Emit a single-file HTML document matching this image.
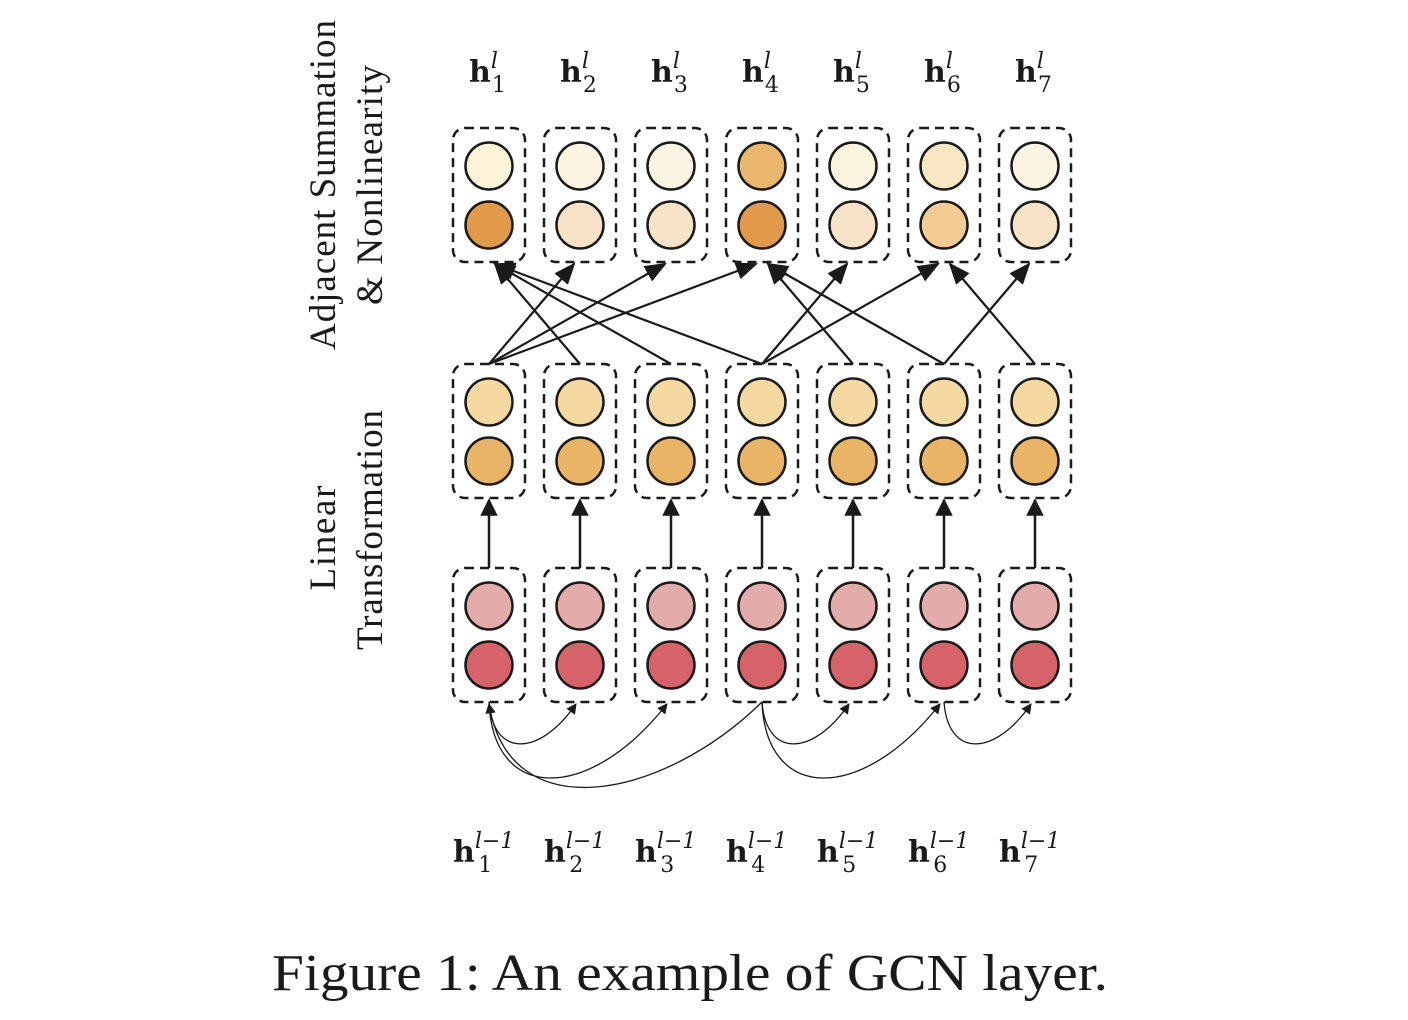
<!DOCTYPE html>
<html><head><meta charset="utf-8"><style>
html,body{margin:0;padding:0;background:#fff;}
svg{display:block;}
.lbl{font-family:"DejaVu Serif","Liberation Serif",serif;font-weight:bold;fill:#1a1a1a;}
.side{font-family:"Liberation Serif",serif;font-size:37px;fill:#1a1a1a;}
</style></head><body>
<svg id="fig" width="1408" height="1020" viewBox="0 0 1408 1020" xmlns="http://www.w3.org/2000/svg">
<defs><marker id="ah" viewBox="0 0 10 10" refX="9" refY="5" markerWidth="8" markerHeight="8" orient="auto-start-reverse"><path d="M0,0 L10,5 L0,10 z" fill="#1a1a1a"/></marker>
<marker id="ah2" viewBox="0 0 10 10" refX="9" refY="5" markerWidth="7" markerHeight="7" orient="auto"><path d="M0,0 L10,5 L0,10 z" fill="#1a1a1a"/></marker>
<marker id="ah3" viewBox="0 0 10 10" refX="9" refY="5" markerWidth="10" markerHeight="10" orient="auto"><path d="M0,1 L10,5 L0,9 z" fill="#1a1a1a"/></marker></defs>
<g id="layer"></g>
<text class="side" transform="translate(335,185) rotate(-90)" text-anchor="middle" textLength="330">Adjacent Summation</text>
<text class="side" transform="translate(382,185) rotate(-90)" text-anchor="middle" textLength="240">&amp; Nonlinearity</text>
<text class="side" transform="translate(335,538) rotate(-90)" text-anchor="middle" textLength="105">Linear</text>
<text class="side" transform="translate(382,530) rotate(-90)" text-anchor="middle" textLength="240">Transformation</text>
<text x="272" y="990" font-family="Liberation Serif, serif" font-size="52" fill="#1a1a1a" textLength="836" lengthAdjust="spacingAndGlyphs">Figure 1:  An example of GCN layer.</text>
</svg>
<script>
const nodes=[1,2,3,4,5,6,7];
const topUpper=["#fdf3d9","#fdf4e2","#fdf5e3","#ebb76f","#fdf4e0","#f9e6c2","#fdf5e3"];
const topLower=["#e09a4a","#f8e3c8","#f8e3c8","#e09a4a","#f8e3c8","#f3cc93","#f8e3c8"];
const midUpper="#f5d9a0", midLower="#e9b466", botUpper="#e4abab", botLower="#d6636a";
const edges=[[1,2],[1,3],[1,4],[4,5],[4,6],[6,7]];
const NS="http://www.w3.org/2000/svg", g=document.getElementById('layer');
const cx=i=>489+(i-1)*91;
function el(t,a){const e=document.createElementNS(NS,t);for(const k in a)e.setAttribute(k,a[k]);g.appendChild(e);return e;}
const rows=[{y:128,u:i=>topUpper[i],l:i=>topLower[i],n:'output'},{y:364,u:()=>midUpper,l:()=>midLower,n:'linear'},{y:568,u:()=>botUpper,l:()=>botLower,n:'input'}];
rows.forEach(r=>{nodes.forEach((n,i)=>{
 const b=el('rect',{x:cx(n)-36,y:r.y,width:72,height:134,rx:12,fill:'none',stroke:'#1a1a1a','stroke-width':2.5,'stroke-dasharray':'9,6'});
 
 
 const c1=el('circle',{cx:cx(n),cy:r.y+38,r:23.5,fill:r.u(i),stroke:'#1a1a1a','stroke-width':2.5});
 
 
 const c2=el('circle',{cx:cx(n),cy:r.y+97,r:23.5,fill:r.l(i),stroke:'#1a1a1a','stroke-width':2.5});
 
 
});});
nodes.forEach(n=>{const a=el('line',{x1:cx(n),y1:568,x2:cx(n),y2:500,stroke:'#1a1a1a','stroke-width':2.5,'marker-end':'url(#ah2)'});
 
 });
edges.forEach(([a,b])=>{[[a,b],[b,a]].forEach(([s,t])=>{
 const l=el('line',{x1:cx(s),y1:364,x2:cx(t)+(t<s?6:-6),y2:264,stroke:'#1a1a1a','stroke-width':2.2,'marker-end':'url(#ah3)'});
 
 });});
edges.forEach(([a,b])=>{const x1=cx(a),x2=cx(b),d=x2-x1,D=10+0.5*d;
 const p=el('path',{d:`M${x1},702 C${x1+4},${702+D} ${x2-d*0.45},${702+D} ${x2-4},704`,fill:'none',stroke:'#1a1a1a','stroke-width':1.3,'marker-end':'url(#ah)'});
 if(b===4){p.removeAttribute('marker-end');p.setAttribute('marker-start','url(#ah)');p.setAttribute('d',`M${x1},704 C${x1+20},${830} ${x2-100},${800} ${x2},702`);}
 
 });
nodes.forEach(n=>{
 const t=el('text',{x:cx(n)-20,y:82,class:'lbl','font-size':30});t.innerHTML=`h<tspan font-size="22" dy="-14" font-style="italic" font-weight="normal">l</tspan><tspan font-size="22" dx="-6" dy="24" font-weight="normal">${n}</tspan>`;
 
 
 const u=el('text',{x:cx(n)-36,y:862,class:'lbl','font-size':30});u.innerHTML=`h<tspan font-size="22" dy="-14" font-style="italic" font-weight="normal">l−1</tspan><tspan font-size="22" dx="-36" dy="24" font-weight="normal">${n}</tspan>`;
 
 
});
</script>
</body></html>
